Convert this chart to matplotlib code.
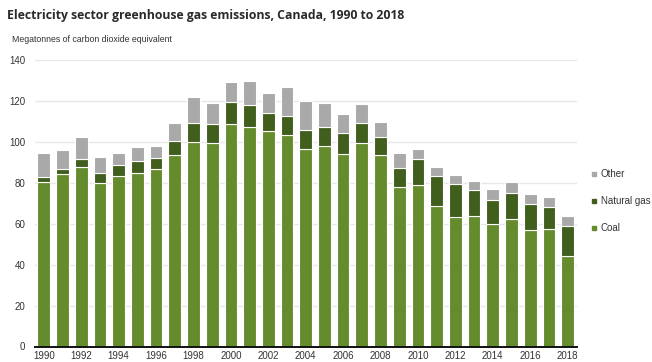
import numpy as np
import matplotlib
matplotlib.use("Agg")
import matplotlib.pyplot as plt
from matplotlib.lines import Line2D

years = list(range(1990, 2019))
coal = [80.2, 84.3, 87.5, 80.0, 83.4, 84.9, 86.7, 93.7, 99.7, 99.6,
        108.7, 107.2, 105.3, 103.3, 96.4, 98.1, 93.9, 99.6, 93.6, 77.9,
        78.7, 68.6, 63.1, 63.9, 60.0, 62.3, 57.1, 57.4, 44.2]
natural_gas = [2.8, 2.2, 4.1, 4.9, 5.1, 5.7, 5.2, 6.7, 9.3, 8.9,
               10.9, 10.8, 8.6, 9.3, 9.5, 9.3, 10.6, 9.4, 8.9, 9.4,
               12.7, 14.8, 16.5, 12.6, 11.8, 12.5, 12.4, 10.6, 14.8]
other = [11.4, 9.5, 10.6, 7.8, 6.2, 7.0, 5.9, 8.6, 12.7, 10.6,
         9.6, 11.7, 9.8, 14.4, 14.1, 11.7, 8.9, 9.7, 7.3, 7.2,
         4.9, 4.4, 4.2, 4.3, 5.0, 5.5, 5.1, 4.9, 4.9]

c_coal = '#648c2c'
c_gas = '#405e1c'
c_other = '#a9a9a9'
txt = '#333333'

plt.rcParams['font.family'] = ['Liberation Sans', 'DejaVu Sans']

fig = plt.figure(figsize=(6.52, 3.62), dpi=100)
ax = fig.add_axes([35/652, 15.5/362, 542/652, 286.5/362])

x = np.arange(len(years))
coal_a = np.array(coal)
gas_a = np.array(natural_gas)
w = 0.68
ax.bar(x, coal_a, w, color=c_coal, edgecolor='white', linewidth=0.8, zorder=3)
ax.bar(x, gas_a, w, bottom=coal_a, color=c_gas, edgecolor='white', linewidth=0.8, zorder=3)
ax.bar(x, other, w, bottom=coal_a + gas_a, color=c_other, edgecolor='white', linewidth=0.8, zorder=3)

ax.set_xlim(-0.47, 28.5)
ax.set_ylim(0, 140)
ax.set_yticks(range(0, 141, 20))
ax.set_xticks(x[::2])
ax.set_xticklabels([str(y) for y in years[::2]])
ax.tick_params(axis='both', length=0, labelsize=7, colors=txt)
ax.tick_params(axis='y', pad=7)
ax.tick_params(axis='x', pad=3)
ax.grid(axis='y', color='#e8e8e8', linewidth=1, zorder=0)
for s in ['top', 'right', 'left']:
    ax.spines[s].set_visible(False)
ax.spines['bottom'].set_color('#111111')
ax.spines['bottom'].set_linewidth(1.4)
ax.spines['bottom'].set_zorder(4)

fig.text(7/652, 1 - 15/362, 'Electricity sector greenhouse gas emissions, Canada, 1990 to 2018',
         fontsize=8.8, fontweight='bold', family=['Open Sans', 'DejaVu Sans'],
         color='#2a2a2a', va='center', ha='left')
fig.text(12/652, 1 - 40/362, 'Megatonnes of carbon dioxide equivalent',
         fontsize=6.3, color=txt, va='center', ha='left')

handles = [Line2D([], [], marker='s', linestyle='none', markersize=3.5, color=c)
           for c in [c_other, c_gas, c_coal]]
fig.legend(handles, ['Other', 'Natural gas', 'Coal'], loc='upper left',
           bbox_to_anchor=(590/652, 1 - 169/362), frameon=False, fontsize=7,
           labelcolor=txt, handlelength=0.8, handletextpad=0.3, labelspacing=1.75,
           borderaxespad=0, borderpad=0)

fig.savefig('out.png', dpi=100)
